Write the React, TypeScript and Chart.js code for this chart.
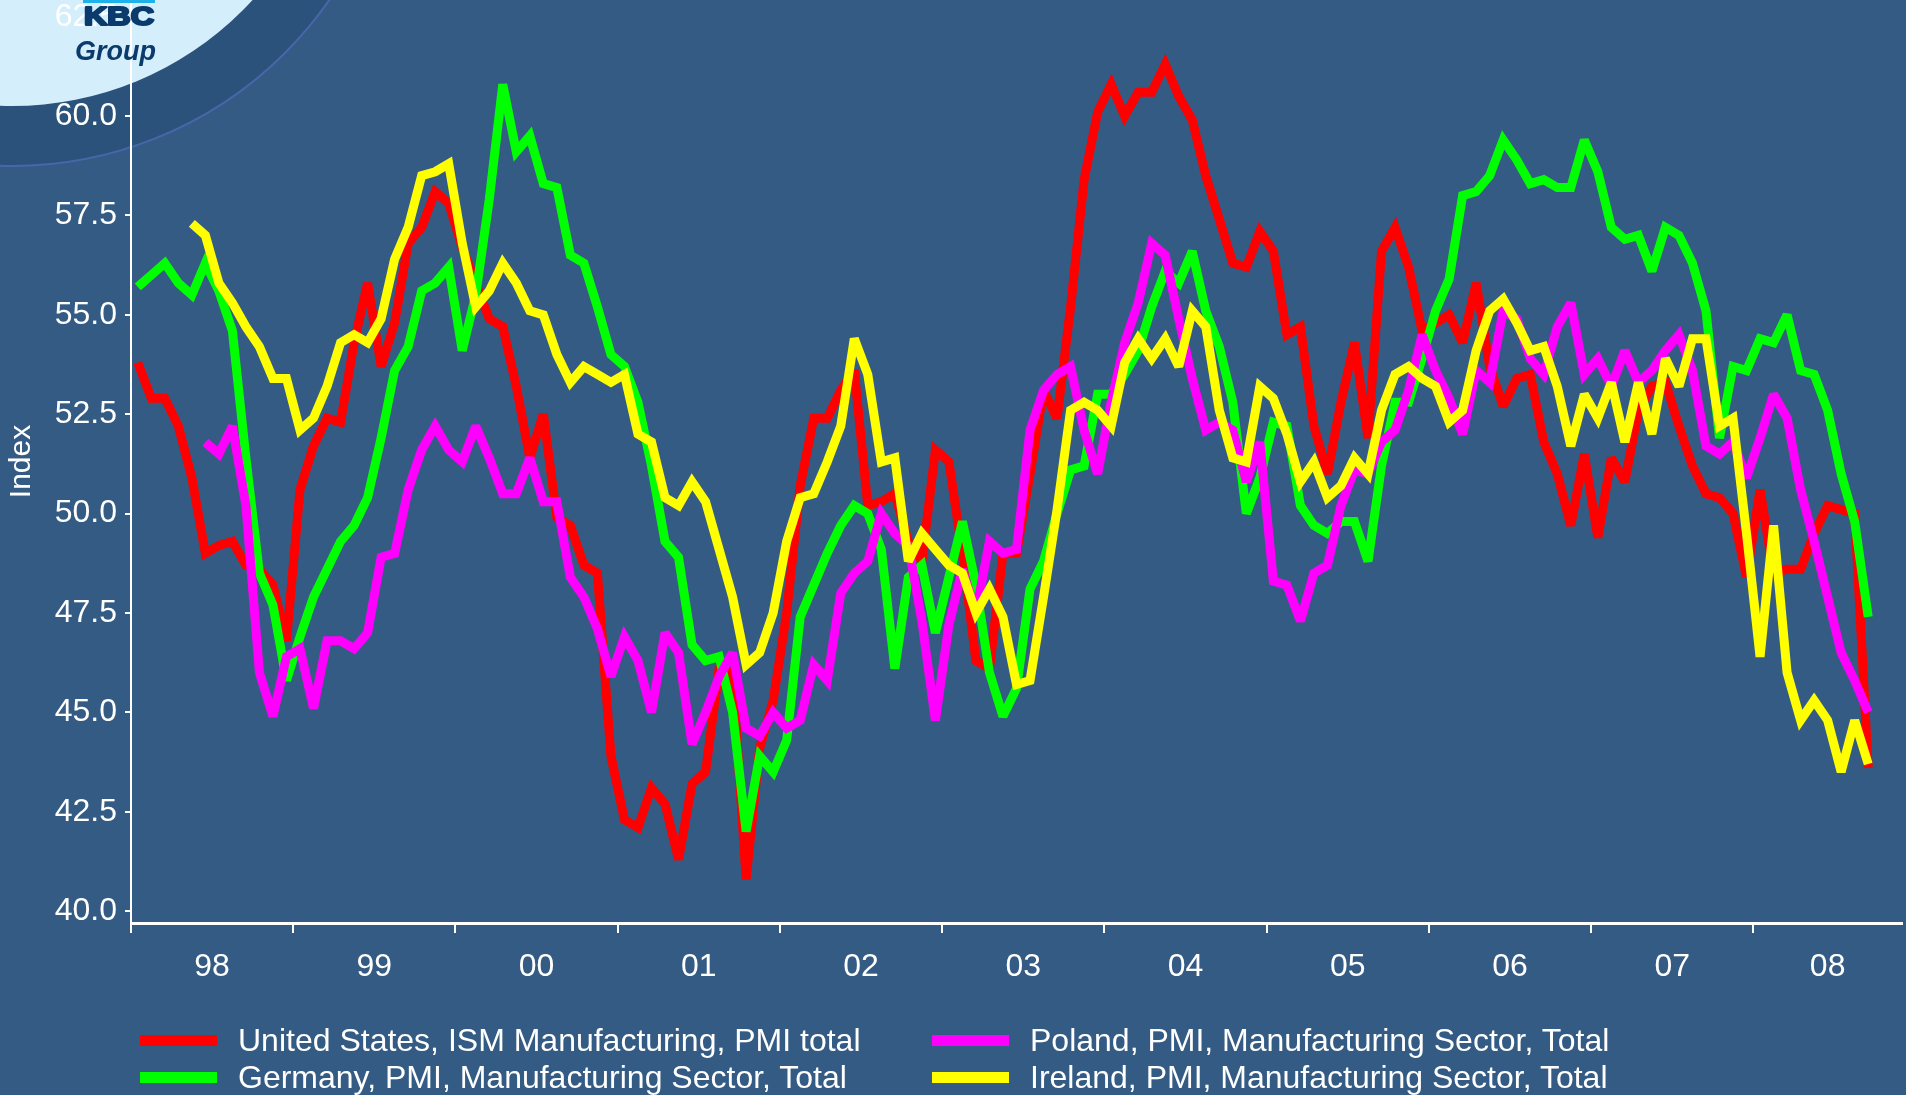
import React, { useEffect, useRef } from 'react';
import { Chart, registerables } from 'chart.js';

Chart.register(...registerables);

// ---- Data (monthly, Jan 1998 = index 0) ----
const yearLabels = ['98', '99', '00', '01', '02', '03', '04', '05', '06', '07', '08'];
const yTickValues = [40, 42.5, 45, 47.5, 50, 52.5, 55, 57.5, 60, 62.5];
const seriesNames = [
  'United States, ISM Manufacturing, PMI total',
  'Germany, PMI, Manufacturing Sector, Total',
  'Poland, PMI, Manufacturing Sector, Total',
  'Ireland, PMI, Manufacturing Sector, Total',
];
const seriesColors = ['#ff0000', '#00ff00', '#ff00ff', '#ffff00'];

const usISM = [
  53.8, 52.9, 52.9, 52.2, 50.9, 49.0, 49.2, 49.3, 48.7, 48.6, 48.2, 46.8,
  50.6, 51.7, 52.4, 52.3, 54.3, 55.8, 53.7, 54.8, 56.8, 57.2, 58.1, 57.8,
  56.7, 55.8, 54.9, 54.7, 53.2, 51.4, 52.5, 49.9, 49.7, 48.7, 48.5, 43.9,
  42.3, 42.1, 43.1, 42.7, 41.3, 43.2, 43.5, 46.1, 46.0, 40.8, 44.1, 45.3,
  47.5, 50.7, 52.4, 52.4, 53.1, 53.6, 50.2, 50.3, 50.5, 49.3, 48.8, 51.6,
  51.3, 49.0, 46.3, 46.1, 49.0, 49.0, 51.0, 53.1, 52.4, 55.2, 58.4, 60.1,
  60.8, 60.0, 60.6, 60.6, 61.3, 60.5, 59.9, 58.5, 57.4, 56.3, 56.2, 57.1,
  56.6, 54.5, 54.7, 52.2, 51.0, 52.8, 54.3, 51.9, 56.6, 57.2, 56.2, 54.6,
  54.8, 55.0, 54.3, 55.8, 53.7, 52.7, 53.4, 53.5, 51.8, 51.0, 49.7, 51.5,
  49.4, 51.4, 50.8, 52.6, 53.2, 53.3, 52.2, 51.2, 50.5, 50.4, 50.0, 48.4,
  50.6, 48.5, 48.6, 48.6, 49.5, 50.2, 50.1, 50.0, 43.6,
];

const germanyPMI = [
  55.7, 56.0, 56.3, 55.8, 55.5, 56.3, 55.6, 54.6, 51.4, 48.5, 47.7, 45.8,
  46.9, 47.9, 48.6, 49.3, 49.7, 50.4, 51.9, 53.6, 54.2, 55.6, 55.8, 56.2,
  54.1, 55.5, 57.9, 60.8, 59.1, 59.5, 58.3, 58.2, 56.5, 56.3, 55.2, 54.0,
  53.7, 52.8, 51.2, 49.3, 48.9, 46.7, 46.3, 46.4, 45.0, 42.0, 43.9, 43.5,
  44.3, 47.4, 48.2, 49.0, 49.7, 50.2, 50.0, 49.1, 46.1, 48.4, 48.7, 47.0,
  48.4, 49.8, 48.2, 46.0, 44.9, 45.6, 48.1, 48.8, 50.0, 51.1, 51.2, 53.0,
  53.0, 53.5, 54.1, 55.2, 56.1, 55.8, 56.6, 55.1, 54.2, 52.8, 50.0, 50.9,
  52.3, 52.2, 50.2, 49.7, 49.5, 49.8, 49.8, 48.8, 51.2, 52.8, 52.8, 53.9,
  55.1, 55.9, 58.0, 58.1, 58.5, 59.4, 58.9, 58.3, 58.4, 58.2, 58.2, 59.4,
  58.6, 57.2, 56.9, 57.0, 56.1, 57.2, 57.0, 56.3, 55.1, 51.9, 53.7, 53.6,
  54.4, 54.3, 55.0, 53.6, 53.5, 52.6, 51.0, 49.8, 47.4,
];

const polandPMI = [
  null, null, null, null, null, 51.8, 51.5, 52.2, 50.2, 46.0, 44.9, 46.4,
  46.6, 45.1, 46.8, 46.8, 46.6, 47.0, 48.9, 49.0, 50.6, 51.6, 52.2, 51.6,
  51.3, 52.2, 51.4, 50.5, 50.5, 51.4, 50.3, 50.3, 48.4, 47.9, 47.1, 45.9,
  46.9, 46.3, 45.0, 47.0, 46.5, 44.2, 45.0, 45.9, 46.5, 44.6, 44.4, 45.0,
  44.6, 44.8, 46.2, 45.8, 48.0, 48.5, 48.8, 50.0, 49.5, 49.2, 47.3, 44.8,
  47.2, 48.6, 47.5, 49.3, 49.0, 49.1, 52.1, 53.1, 53.5, 53.7, 52.1, 51.0,
  52.8, 54.3, 55.3, 56.8, 56.5, 54.9, 53.4, 52.1, 52.3, 52.1, 50.8, 51.8,
  48.3, 48.2, 47.3, 48.5, 48.7, 50.2, 51.1, 51.0, 51.8, 52.1, 53.1, 54.5,
  53.6, 52.9, 52.0, 53.6, 53.3, 55.1, 54.9, 53.9, 53.5, 54.7, 55.3, 53.5,
  53.9, 53.2, 54.1, 53.3, 53.6, 54.1, 54.5, 53.6, 51.7, 51.5, 51.8, 50.9,
  51.9, 53.0, 52.4, 50.6, 49.3, 47.9, 46.5, 45.8, 45.0,
];

const irelandPMI = [
  null, null, null, null, 57.3, 57.0, 55.8, 55.3, 54.7, 54.2, 53.4, 53.4,
  52.1, 52.4, 53.2, 54.3, 54.5, 54.3, 54.9, 56.4, 57.2, 58.5, 58.6, 58.8,
  56.8, 55.2, 55.6, 56.3, 55.8, 55.1, 55.0, 54.0, 53.3, 53.7, 53.5, 53.3,
  53.5, 52.0, 51.8, 50.4, 50.2, 50.8, 50.3, 49.1, 47.9, 46.2, 46.5, 47.5,
  49.3, 50.4, 50.5, 51.3, 52.2, 54.4, 53.5, 51.3, 51.4, 48.8, 49.5, 49.1,
  48.7, 48.5, 47.5, 48.1, 47.4, 45.7, 45.8, 47.9, 50.1, 52.6, 52.8, 52.6,
  52.2, 53.8, 54.4, 53.9, 54.4, 53.7, 55.1, 54.7, 52.6, 51.4, 51.3, 53.2,
  52.9, 52.0, 50.8, 51.3, 50.4, 50.7, 51.4, 51.0, 52.6, 53.5, 53.7, 53.4,
  53.2, 52.3, 52.6, 54.1, 55.1, 55.4, 54.8, 54.1, 54.2, 53.2, 51.7, 53.0,
  52.4, 53.3, 51.8, 53.3, 52.0, 53.9, 53.2, 54.4, 54.4, 52.2, 52.4, 49.5,
  46.4, 49.7, 46.0, 44.8, 45.3, 44.8, 43.5, 44.8, 43.7,
];

const FONT = '"Liberation Sans", Arial, Helvetica, sans-serif';
const X_MAX = 131; // months shown on the axis

const toPoints = (arr: (number | null)[]) =>
  arr
    .map((v, i) => (v == null ? null : { x: i + 0.5, y: v }))
    .filter((p) => p !== null) as { x: number; y: number }[];

// year boundary ticks + mid-year label ticks
const yearBoundaryTicks = yearLabels.map((_, i) => i * 12);
const labelTicks = yearLabels.map((_, i) =>
  i < yearLabels.length - 1 ? i * 12 + 6 : (i * 12 + X_MAX) / 2
);

const kbcPlugin = {
  id: 'kbcDecor',
  beforeDraw(chart: any) {
    const { ctx, width, height } = chart;
    ctx.save();
    ctx.fillStyle = '#345b84';
    ctx.fillRect(0, 0, width, height);
    ctx.beginPath();
    ctx.arc(12, -220, 386, 0, Math.PI * 2);
    ctx.fillStyle = '#2b527a';
    ctx.fill();
    ctx.lineWidth = 2;
    ctx.strokeStyle = '#4767aa';
    ctx.stroke();
    ctx.beginPath();
    ctx.arc(12, -220, 326, 0, Math.PI * 2);
    ctx.fillStyle = '#d4eefb';
    ctx.fill();
    ctx.restore();
  },
  beforeDatasetsDraw(chart: any) {
    chart.ctx.miterLimit = 2.5;
  },
  afterDraw(chart: any) {
    const { ctx } = chart;
    ctx.save();
    ctx.fillStyle = '#1fb1ea';
    ctx.fillRect(83, 0, 72, 3);
    ctx.fillStyle = '#0b3a6d';
    ctx.strokeStyle = '#0b3a6d';
    ctx.lineJoin = 'round';
    ctx.font = `bold 25px ${FONT}`;
    ctx.textBaseline = 'alphabetic';
    const w = ctx.measureText('KBC').width;
    ctx.translate(84, 25);
    ctx.scale(70 / w, 1);
    ctx.lineWidth = 2.2;
    ctx.strokeText('KBC', 0, 0);
    ctx.fillText('KBC', 0, 0);
    ctx.setTransform(1, 0, 0, 1, 0, 0);
    ctx.font = `italic bold 27px ${FONT}`;
    ctx.fillText('Group', 75, 60);
    ctx.restore();
  },
};

export default function App() {
  const canvasRef = useRef<HTMLCanvasElement | null>(null);

  useEffect(() => {
    const canvas = canvasRef.current;
    if (!canvas) return;
    const allSeries = [usISM, germanyPMI, polandPMI, irelandPMI];
    const datasets = allSeries.map((s, i) => ({
      label: seriesNames[i],
      data: toPoints(s),
      borderColor: seriesColors[i],
      backgroundColor: seriesColors[i],
      borderWidth: 9,
      pointRadius: 0,
      pointHoverRadius: 0,
      tension: 0,
      fill: false,
      borderJoinStyle: 'miter' as const,
      order: allSeries.length - i,
    }));

    const chart = new Chart(canvas, {
      type: 'line',
      data: { datasets },
      options: {
        animation: false,
        responsive: false,
        devicePixelRatio: 1,
        layout: { padding: { left: 0, right: 4, top: 0, bottom: 0 } },
        plugins: {
          legend: { display: false },
          tooltip: { enabled: false },
        },
        events: [],
        scales: {
          x: {
            type: 'linear',
            min: 0,
            max: X_MAX,
            afterBuildTicks: (scale: any) => {
              const vals = [...yearBoundaryTicks, ...labelTicks].sort((a, b) => a - b);
              scale.ticks = vals.map((v) => ({ value: v }));
            },
            afterFit: (scale: any) => {
              scale.height = 172;
              scale.paddingLeft = 0;
              scale.paddingRight = 0;
            },
            ticks: {
              autoSkip: false,
              maxRotation: 0,
              minRotation: 0,
              color: '#ffffff',
              padding: 15,
              font: { family: FONT, size: 32 },
              callback: (value: any) => {
                const idx = labelTicks.indexOf(Number(value));
                return idx >= 0 ? yearLabels[idx] : '';
              },
            },
            grid: {
              drawOnChartArea: false,
              drawTicks: true,
              tickLength: 10,
              lineWidth: 2,
              color: (ctx: any) =>
                ctx.tick && yearBoundaryTicks.includes(ctx.tick.value)
                  ? '#ffffff'
                  : 'rgba(0,0,0,0)',
            },
            border: { display: true, color: '#ffffff', width: 3 },
          },
          y: {
            type: 'linear',
            min: 39.7,
            max: 62.92,
            afterBuildTicks: (scale: any) => {
              scale.ticks = yTickValues.map((v) => ({ value: v }));
            },
            afterFit: (scale: any) => {
              scale.width = 131;
              scale.paddingTop = 0;
              scale.paddingBottom = 0;
            },
            ticks: {
              color: '#ffffff',
              padding: 8,
              font: { family: FONT, size: 32 },
              callback: (value: any) => Number(value).toFixed(1),
            },
            grid: {
              drawOnChartArea: false,
              drawTicks: true,
              tickLength: 6,
              lineWidth: 2,
              color: '#ffffff',
            },
            border: { display: true, color: '#ffffff', width: 2 },
            title: {
              display: true,
              text: 'Index',
              color: '#ffffff',
              font: { family: FONT, size: 30 },
              padding: { top: 4, bottom: 0 },
            },
          },
        },
      },
      plugins: [kbcPlugin],
    } as any);

    return () => chart.destroy();
  }, []);

  const legendLayout = [
    { series: 0, boxLeft: 140, textLeft: 238, center: 1040 },
    { series: 2, boxLeft: 932, textLeft: 1030, center: 1040 },
    { series: 1, boxLeft: 140, textLeft: 238, center: 1077 },
    { series: 3, boxLeft: 932, textLeft: 1030, center: 1077 },
  ];

  return (
    <div
      style={{
        position: 'fixed',
        left: 0,
        top: 0,
        width: 1906,
        height: 1095,
        overflow: 'hidden',
        background: '#345b84',
      }}
    >
      <canvas ref={canvasRef} width={1906} height={1095} style={{ display: 'block' }} />
      {legendLayout.map((item) => (
        <React.Fragment key={item.series}>
          <div
            style={{
              position: 'absolute',
              left: item.boxLeft,
              top: item.center - 5.5,
              width: 77,
              height: 11,
              background: seriesColors[item.series],
            }}
          />
          <div
            style={{
              position: 'absolute',
              left: item.textLeft,
              top: item.center - 20,
              height: 40,
              lineHeight: '40px',
              fontFamily: FONT,
              fontSize: 32,
              color: '#ffffff',
              whiteSpace: 'nowrap',
            }}
          >
            {seriesNames[item.series]}
          </div>
        </React.Fragment>
      ))}
    </div>
  );
}
